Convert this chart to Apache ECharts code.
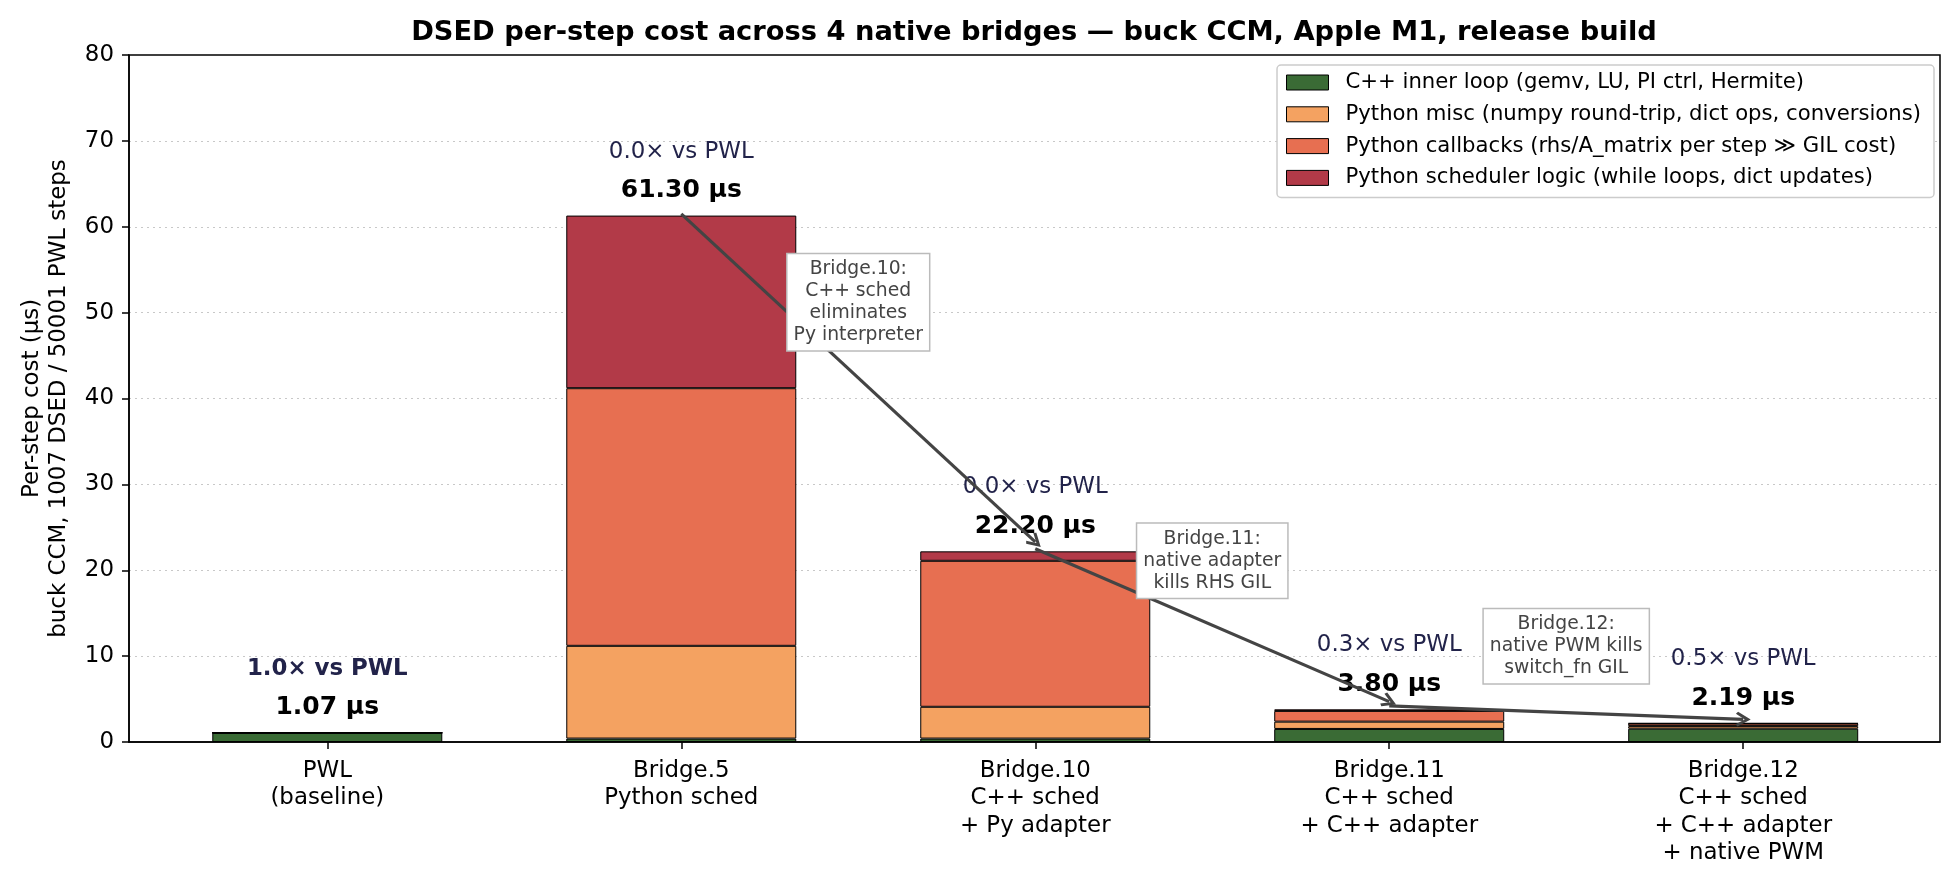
<!DOCTYPE html>
<html><head><meta charset="utf-8">
<script src="https://cdn.jsdelivr.net/npm/echarts@6/dist/echarts.min.js"></script>
<style>html,body{margin:0;padding:0;background:#fff}#c{width:1959px;height:886px}</style>
</head><body><div id="c"></div>
<script>
const categories = ['PWL\n(baseline)', 'Bridge.5\nPython sched', 'Bridge.10\nC++ sched\n+ Py adapter', 'Bridge.11\nC++ sched\n+ C++ adapter', 'Bridge.12\nC++ sched\n+ C++ adapter\n+ native PWM'];
const seriesNames = ['C++ inner loop (gemv, LU, PI ctrl, Hermite)', 'Python misc (numpy round-trip, dict ops, conversions)', 'Python callbacks (rhs/A_matrix per step \u226B GIL cost)', 'Python scheduler logic (while loops, dict updates)'];
const seriesColors = ['#3a6b35', '#f4a261', '#e76f51', '#b23a48'];
const cppInner = [1.07, 0.4, 0.4, 1.52, 1.55];
const pyMisc = [0, 10.8, 3.7, 0.85, 0.3];
const pyCallbacks = [0, 30.0, 17.0, 1.25, 0.3];
const pySched = [0, 20.1, 1.1, 0.18, 0.04];
const totals = [1.07, 61.30, 22.20, 3.80, 2.19];
const ratios = ['1.0\u00d7 vs PWL', '0.0\u00d7 vs PWL', '0.0\u00d7 vs PWL', '0.3\u00d7 vs PWL', '0.5\u00d7 vs PWL'];
const yTicks = [0, 10, 20, 30, 40, 50, 60, 70, 80];
const arrows = [
  { from: [1, 61.5], to: [2, 23.3] },
  { from: [2, 22.5], to: [3, 4.7] },
  { from: [3, 4.2], to: [4, 2.64] }
];
const notes = [
  { x: 1.5, y: 51.2, text: 'Bridge.10:\nC++ sched\neliminates\nPy interpreter' },
  { x: 2.5, y: 21.1, text: 'Bridge.11:\nnative adapter\nkills RHS GIL' },
  { x: 3.5, y: 11.15, text: 'Bridge.12:\nnative PWM kills\nswitch_fn GIL' }
];

const FONT = 'DejaVu Sans';
const chart = echarts.init(document.getElementById('c'), null, { renderer: 'canvas' });
const segs = [cppInner, pyMisc, pyCallbacks, pySched];

const barSeries = segs.map((arr, k) => ({
  name: seriesNames[k], type: 'bar', stack: 'total', xAxisIndex: 1, yAxisIndex: 1,
  barWidth: 230, data: arr,
  itemStyle: { color: seriesColors[k], borderColor: '#000', borderWidth: 1 },
  emphasis: { disabled: true }, z: 3
}));

const option = {
  animation: false,
  textStyle: { fontFamily: FONT },
  title: {
    text: 'DSED per-step cost across 4 native bridges \u2014 buck CCM, Apple M1, release build',
    left: 1034, textAlign: 'center', top: 19, padding: 0,
    textStyle: { fontFamily: FONT, fontSize: 27.3, fontWeight: 'bold', color: '#000' }
  },
  legend: {
    data: seriesNames, orient: 'vertical', right: 25, top: 65,
    padding: [7, 13, 9, 9], itemGap: 10.8, itemWidth: 42, itemHeight: 15,
    backgroundColor: '#fff', borderColor: '#cccccc', borderWidth: 1.5, borderRadius: 4,
    icon: 'rect', selectedMode: false,
    itemStyle: { borderColor: '#000', borderWidth: 1 },
    textStyle: { fontFamily: FONT, fontSize: 21.2, lineHeight: 21, color: '#000', padding: [0, 0, 0, 12] }
  },
  grid: [
    { left: 129, right: 19, top: 55, bottom: 144, show: true, borderColor: '#000', borderWidth: 1.5, backgroundColor: 'transparent', z: 10 },
    { left: 150.3, right: 38.8, top: 55, bottom: 144 }
  ],
  xAxis: [
    { gridIndex: 0, type: 'value', min: 0, max: 1, show: true, position: 'bottom',
      axisLine: { show: true, onZero: false, lineStyle: { color: '#000', width: 1.5 } },
      axisTick: { show: false }, axisLabel: { show: false }, splitLine: { show: false }, z: 10 },
    { gridIndex: 1, type: 'category', data: categories,
      axisLine: { show: false },
      axisTick: { show: true, alignWithLabel: true, length: 7, lineStyle: { color: '#000', width: 1.5 } },
      axisLabel: { fontFamily: FONT, fontSize: 22.9, lineHeight: 27.5, color: '#000', margin: 15, interval: 0 },
      splitLine: { show: false } }
  ],
  yAxis: [
    { gridIndex: 0, type: 'value', min: 0, max: 80, interval: 10,
      name: 'Per-step cost (\u00b5s)\nbuck CCM, 1007 DSED / 50001 PWL steps',
      nameLocation: 'middle', nameGap: 56, nameRotate: 90,
      nameTextStyle: { fontFamily: FONT, fontSize: 22.9, lineHeight: 27.5, color: '#000' },
      axisLine: { show: true, lineStyle: { color: '#000', width: 1.5 } },
      axisTick: { show: true, length: 7, lineStyle: { color: '#000', width: 1.5 } },
      axisLabel: { fontFamily: FONT, fontSize: 22.9, color: '#000', margin: 15,
        formatter: v => (yTicks.indexOf(v) >= 0 ? String(v) : '') },
      splitLine: { show: true, showMinLine: false, showMaxLine: false, lineStyle: { color: '#c8c8c8', type: [2, 4], width: 1.2 } } },
    { gridIndex: 1, type: 'value', min: 0, max: 80, show: false, splitLine: { show: false } }
  ],
  series: barSeries.concat([
    { type: 'scatter', xAxisIndex: 1, yAxisIndex: 1, symbolSize: 0, silent: true, z: 6,
      itemStyle: { opacity: 1 },
      data: totals.map((v, i) => [i, v]),
      label: { show: true, position: 'top', distance: 12.5, fontFamily: FONT, fontSize: 25, lineHeight: 25,
        fontWeight: 'bold', color: '#000', opacity: 1, formatter: p => totals[p.dataIndex].toFixed(2) + ' \u00b5s' } },
    { type: 'scatter', xAxisIndex: 1, yAxisIndex: 1, symbolSize: 0, silent: true, z: 6,
      itemStyle: { opacity: 1 },
      data: totals.map((v, i) => ({ value: [i, v], label: { fontWeight: i === 0 ? 'bold' : 'normal' } })),
      label: { show: true, position: 'top', distance: 52.5, fontFamily: FONT, fontSize: 22.9, lineHeight: 23,
        color: '#22234a', opacity: 1, formatter: p => ratios[p.dataIndex] } },
    { type: 'lines', coordinateSystem: 'cartesian2d', xAxisIndex: 1, yAxisIndex: 1, silent: true, z: 7,
      symbol: ['none', 'path://M0,0 L8,10 L5.6,11.6 L0,4.6 L-5.6,11.6 L-8,10 Z'], symbolSize: [20, 15],
      lineStyle: { color: '#444', width: 3.2, opacity: 1 },
      itemStyle: { color: '#444' },
      data: arrows.map(a => ({ coords: [a.from, a.to] })) }
  ])
};
chart.setOption(option);

function notePixel(n) {
  const i0 = Math.floor(n.x), i1 = Math.ceil(n.x);
  const p0 = chart.convertToPixel({ xAxisIndex: 1, yAxisIndex: 1 }, [i0, n.y]);
  const p1 = chart.convertToPixel({ xAxisIndex: 1, yAxisIndex: 1 }, [i1, n.y]);
  const t = i1 === i0 ? 0 : (n.x - i0) / (i1 - i0);
  return [p0[0] + (p1[0] - p0[0]) * t, p0[1]];
}
chart.setOption({
  graphic: notes.map(n => {
    const p = notePixel(n);
    return { type: 'text', x: p[0], y: p[1], z: 100, silent: true,
      style: { text: n.text, align: 'center', verticalAlign: 'middle', textAlign: 'center', textVerticalAlign: 'middle',
        fontFamily: FONT, fontSize: 18.75, lineHeight: 22, fill: '#444',
        backgroundColor: '#fff', borderColor: '#bbbbbb', borderWidth: 1.5, padding: [4, 6] } };
  })
});
</script></body></html>
